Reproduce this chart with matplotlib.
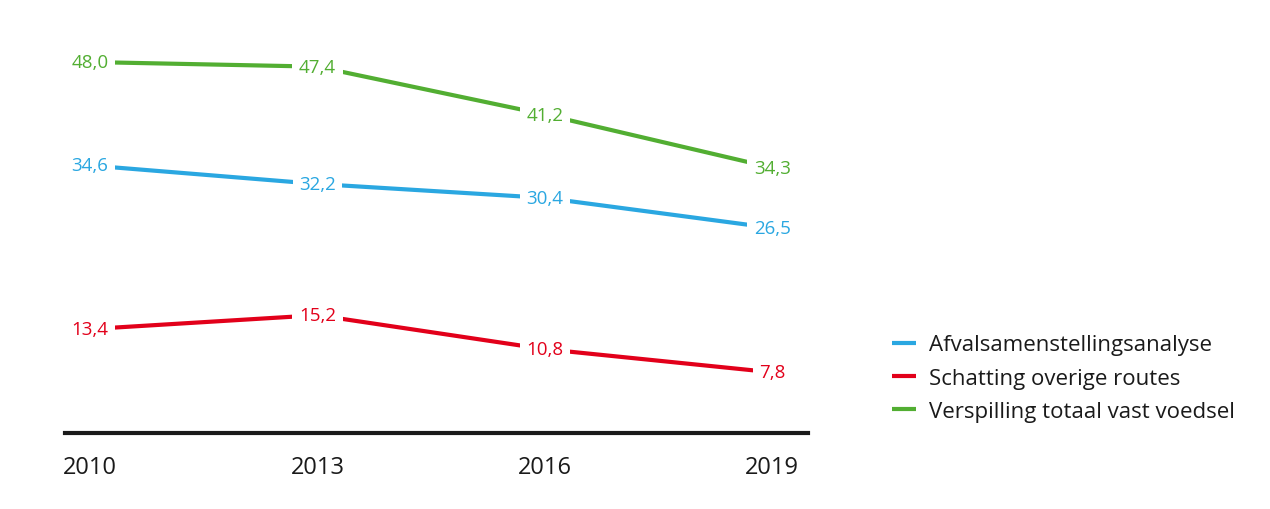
import matplotlib
matplotlib.use("Agg")
import matplotlib.pyplot as plt

years = [2010, 2013, 2016, 2019]
afval = [34.6, 32.2, 30.4, 26.5]
overig = [13.4, 15.2, 10.8, 7.8]
totaal = [48.0, 47.4, 41.2, 34.3]
series_names = ["Afvalsamenstellingsanalyse", "Schatting overige routes", "Verspilling totaal vast voedsel"]
colors = ["#2AA7E1", "#E2001A", "#52AE32"]

plt.rcParams['font.family'] = ['Open Sans', 'DejaVu Sans']

fig = plt.figure(figsize=(12.7, 5.1), dpi=100)
ax = fig.add_axes([65/1270, 1-433.5/510, (808-65)/1270, (433.5-9)/510])

for vals, name, c in zip([afval, overig, totaal], series_names, colors):
    ax.plot(years, vals, color=c, lw=3.0, label=name, solid_capstyle='butt', zorder=2)
    for x, v in zip(years, vals):
        ax.text(x, v, f"{v:.1f}".replace('.', ','), color=c, fontsize=13.5,
                ha='center', va='center', zorder=3,
                bbox=dict(boxstyle='square,pad=0.35', fc='white', ec='none'))

ax.set_xlim(2009.67, 2019.47)
ax.set_ylim(0, 55)
for s in ['top', 'right', 'left']:
    ax.spines[s].set_visible(False)
ax.spines['bottom'].set_linewidth(3)
ax.spines['bottom'].set_color('#1a1a1a')
ax.set_yticks([])
ax.set_xticks(years)
ax.set_xticklabels([str(y) for y in years], fontsize=17, color='#1a1a1a')
ax.tick_params(axis='x', length=0, pad=16)

handles, labels = ax.get_legend_handles_labels()
fig.legend(handles, labels, loc='center left', bbox_to_anchor=(872/1270, 1-379/510),
           frameon=False, fontsize=16, handlelength=1.1, handletextpad=0.55,
           labelspacing=0.55, labelcolor='#1a1a1a')

fig.savefig("out.png", dpi=100)
